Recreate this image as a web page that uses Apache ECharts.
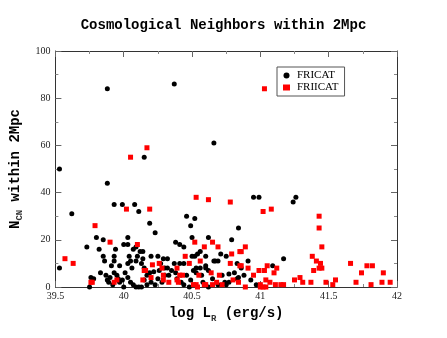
<!DOCTYPE html>
<html>
<head>
<meta charset="utf-8">
<script src="https://cdn.jsdelivr.net/npm/echarts@6/dist/echarts.min.js"></script>
<style>
    html, body { margin: 0; padding: 0; background: #fff; }
    #main { width: 447px; height: 338px; }
</style>
</head>
<body>
<div id="main"></div>
<script>
// FRICAT (black circles)
var friX = [39.88, 40.37, 40.66, 39.53, 40.15, 39.88, 39.62, 39.93, 39.99, 40.08, 40.11, 40.19, 40.23,
    40.95, 40.99, 41.26, 41.24, 40.46, 40.52, 40.49, 40.84, 40.50, 40.62, 40.79,
    40.38, 40.41, 40.44, 40.56, 40.54, 40.71, 40.75, 40.32, 40.50, 40.52, 40.60, 40.66, 40.67, 40.69,
    40.37, 40.41, 40.44, 40.83, 40.60, 40.60, 40.30, 40.32, 40.53, 40.56,
    41.17, 40.91, 41.09, 40.86, 40.88, 40.84, 40.93, 40.97,
    39.53, 39.73, 39.80, 39.85, 39.82, 39.94, 39.85, 39.93, 39.86, 39.93, 39.83, 39.76, 39.75, 39.78,
    40.03, 40.00, 40.03, 40.07, 40.09, 40.12, 40.04, 40.10, 40.20, 40.25, 40.29, 40.05, 40.13, 39.91, 39.97, 40.03, 40.09,
    39.87, 39.88, 39.89, 39.90, 39.92, 39.93, 39.95, 39.96, 39.97, 40.01, 40.03, 40.05, 40.07, 40.09, 40.11, 40.13,
    40.17, 40.19, 40.20, 40.22, 40.23, 40.25, 40.26, 40.28, 40.30,
    40.33, 40.35, 40.38, 40.39, 40.42, 40.44, 40.46, 40.49, 40.51, 40.53, 40.57, 40.58, 40.62, 40.65, 40.69,
    40.72, 40.74, 40.75, 40.77, 40.81, 40.83, 40.48, 40.62, 40.77,
    40.15, 40.17, 40.00, 39.99, 40.06, 40.15, 40.27, 40.14, 40.14];
var friY = [84, 86, 61, 50, 55, 44, 31, 35, 35, 35, 32, 27, 23,
    38, 38, 38, 36, 30, 29, 26, 25, 21, 21, 20,
    19, 18, 17, 15, 14, 14, 13, 12, 13, 13, 13, 11, 11, 11,
    10, 10, 10, 10, 9, 8, 8, 8, 8, 8,
    12, 11, 9, 8, 5, 4, 3, 1,
    8, 17, 21, 20, 16, 16, 13, 13, 11, 11, 6, 4, 0, 3.5,
    21, 18, 18, 16, 17, 15, 13, 13, 13, 13, 12, 11, 10, 9, 9, 10, 11,
    5, 3, 2, 4, 1, 6, 5, 3.5, 2, 6, 4, 2, 1, 0, 0, 0,
    1, 6, 2, 6.5, 1, 3.5, 7, 2, 5,
    5, 7, 6, 3.5, 2, 1, 5, 3, 7, 6, 5, 2, 7, 3.5, 1,
    5, 2, 1, 5.5, 6, 3.5, 0, 0, 2,
    8, 5, 0, 3, 8, 3, 10, 12, 15];

// FRIICAT (red squares)
var friiX = [40.05, 40.17, 41.03, 39.57, 39.63, 39.79, 39.90, 40.02, 40.19, 40.10, 40.15, 40.20, 40.26, 40.21, 40.28,
    39.77, 39.93, 39.95, 39.76, 40.14, 40.16, 40.29,
    40.53, 40.62, 40.78, 40.52, 40.59, 40.65, 40.69, 40.79, 40.85, 40.45, 40.56, 40.48, 40.78, 40.85, 40.39,
    40.29, 40.41, 40.43, 40.55, 40.64, 40.70, 40.33, 40.39, 40.40, 40.80, 40.84, 40.59, 40.60, 40.51, 40.53,
    40.54, 40.65, 40.68, 40.72,
    41.02, 41.08, 40.89, 40.86, 41.38, 40.86, 40.91, 41.05, 41.12, 40.95, 40.99, 41.03, 41.10, 41.04, 41.07,
    41.25, 41.29, 41.31, 41.37, 41.39, 41.00, 41.00, 41.02, 41.04, 41.11, 41.15, 41.17, 40.89,
    41.43, 41.43, 41.45, 41.41, 41.44, 41.43, 41.45, 41.66, 41.78, 41.82, 41.74, 41.90, 41.48, 41.55, 41.53,
    41.70, 41.81, 41.89, 41.95];
var friiY = [55, 59, 84, 12, 10, 26, 19, 33, 33, 18, 7, 4, 10, 9.4, 8,
    2, 2, 3, 2, 3, 7, 3,
    38, 37, 36, 19, 17, 19, 17, 14, 15, 13, 11, 10, 10, 9, 8,
    5, 5, 5, 5, 6, 5, 2, 3, 2, 3, 2, 1, 1, 1, 1,
    0, 1, 2, 1,
    32, 33, 17, 15, 13, 9, 8, 9, 8, 5, 7, 7, 6, 3, 2,
    3, 4, 2, 2, 7, 1, 0, 0, 0, 1, 1, 1, 0,
    30, 25, 17, 11, 10, 8, 8, 10, 9, 9, 6, 6, 2, 3, 1,
    2, 1, 2, 2];

var xTicks = [39.5, 40, 40.5, 41, 41.5, 42];

function zip(xs, ys) {
    return xs.map(function (x, i) { return [x, ys[i]]; });
}

var chart = echarts.init(document.getElementById('main'), null, { renderer: 'canvas' });

var monoBold = {
    fontFamily: 'Liberation Mono',
    fontWeight: 'bold',
    fontSize: 14,
    color: '#000'
};

var tickLbl = {
    fontFamily: 'Liberation Serif',
    fontSize: 10,
    color: '#222'
};

// 轴的公共样式
function frameAxis(extra) {
    return Object.assign({
        axisLine: { show: true, onZero: false, lineStyle: { color: '#333', width: 1 } },
        axisTick: { show: true, inside: true, length: 6, lineStyle: { color: '#666' } },
        minorTick: { show: true, splitNumber: 2, length: 3, lineStyle: { color: '#888' } },
        splitLine: { show: false }
    }, extra);
}

var option = {
    backgroundColor: '#fff',
    animation: false,
    title: {
        text: 'Cosmological Neighbors within 2Mpc',
        left: 'center',
        top: 13,
        textStyle: monoBold
    },
    legend: {
        orient: 'vertical',
        left: 277,
        top: 67,
        width: 63,
        padding: [3, 6, 3, 6],
        itemGap: 1,
        itemWidth: 7,
        itemHeight: 6,
        borderColor: '#555',
        borderWidth: 1,
        textStyle: { fontFamily: 'Liberation Serif', fontSize: 11, color: '#000', padding: [0, 0, 0, 2] },
        data: ['FRICAT', 'FRIICAT']
    },
    grid: { left: 52, right: 50, top: 51, bottom: 51 },
    xAxis: [
        frameAxis({
            type: 'value', min: 39.5, max: 42, interval: 0.5,
            position: 'bottom',
            name: '{a|log L}{s|R}{a| (erg/s)}',
            nameLocation: 'middle',
            nameGap: 17,
            nameTextStyle: {
                rich: {
                    a: monoBold,
                    s: { fontFamily: 'Liberation Mono', fontWeight: 'bold', fontSize: 9, padding: [10, 0, 0, 0] }
                }
            },
            axisLabel: Object.assign({ margin: 4, formatter: function (v) { return xTicks.indexOf(v) >= 0 ? String(v) : ''; } }, tickLbl)
        }),
        frameAxis({
            type: 'value', min: 39.5, max: 42, interval: 0.5,
            position: 'top',
            axisLabel: { show: false }
        })
    ],
    yAxis: [
        frameAxis({
            type: 'value', min: 0, max: 100, interval: 20,
            position: 'left',
            name: '{a|N}{s|CN}{a| within 2Mpc}',
            nameLocation: 'middle',
            nameGap: 25,
            nameRotate: 90,
            nameTextStyle: {
                rich: {
                    a: monoBold,
                    s: { fontFamily: 'Liberation Mono', fontWeight: 'bold', fontSize: 9, padding: [10, 0, 0, 0] }
                }
            },
            axisLabel: Object.assign({ margin: 5 }, tickLbl)
        }),
        frameAxis({
            type: 'value', min: 0, max: 100, interval: 20,
            position: 'right',
            axisLabel: { show: false }
        })
    ],
    series: [{
        name: 'FRICAT',
        type: 'scatter',
        symbol: 'circle',
        symbolSize: 5,
        itemStyle: { color: '#000', opacity: 1 },
        data: zip(friX, friY)
    }, {
        name: 'FRIICAT',
        type: 'scatter',
        symbol: 'rect',
        symbolSize: 5,
        itemStyle: { color: '#f00', opacity: 1 },
        data: zip(friiX, friiY)
    }]
};

chart.setOption(option);
</script>
</body>
</html>
